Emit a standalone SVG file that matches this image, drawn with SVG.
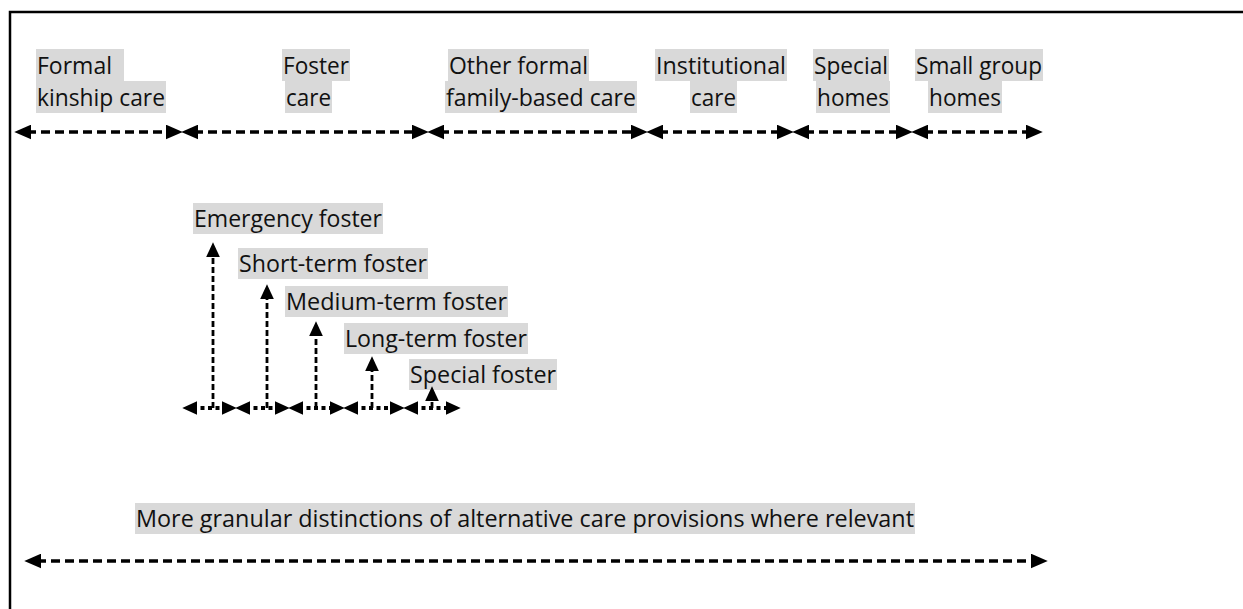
<svg xmlns="http://www.w3.org/2000/svg" width="1243" height="609" viewBox="0 0 1243 609">
<defs>
<style>
.hl{fill:#d9d9d9}
.t{font-family:"Open Sans","Noto Sans","Liberation Sans",sans-serif;font-size:24px;fill:#111}
.top{fill:none;stroke:#000;stroke-width:3.6;stroke-dasharray:9 5}
.dot{fill:none;stroke:#000;stroke-width:3.8;stroke-dasharray:4 3.5}
.vert{fill:none;stroke:#000;stroke-width:2.8;stroke-dasharray:6 3}
.big{fill:none;stroke:#000;stroke-width:3.6;stroke-dasharray:9 5}
</style>
<marker id="ah" markerUnits="userSpaceOnUse" markerWidth="17" markerHeight="15" refX="4" refY="7" orient="auto-start-reverse" viewBox="0 0 16 14">
<path d="M0,0 L16,7 L0,14 z" fill="#000"/>
</marker>
<marker id="as" markerUnits="userSpaceOnUse" markerWidth="15" markerHeight="14" refX="4" refY="6.5" orient="auto-start-reverse" viewBox="0 0 14 13">
<path d="M0,0 L14,6.5 L0,13 z" fill="#000"/>
</marker>
</defs>
<rect width="1243" height="609" fill="#fff"/>
<path d="M1250,12 H10 V620" fill="none" stroke="#000" stroke-width="2.5"/>

<g id="n-kinship">
<rect class="hl" x="36" y="49" width="88" height="32"/>
<rect class="hl" x="36" y="81" width="130" height="32"/>
<text class="t" x="37" y="74" textLength="75" lengthAdjust="spacingAndGlyphs">Formal</text>
<text class="t" x="37" y="106" textLength="128" lengthAdjust="spacingAndGlyphs">kinship care</text>
</g>
<g id="n-foster">
<rect class="hl" x="282" y="49" width="68" height="32"/>
<rect class="hl" x="285" y="81" width="47" height="32"/>
<text class="t" x="283" y="74" textLength="66" lengthAdjust="spacingAndGlyphs">Foster</text>
<text class="t" x="286" y="106" textLength="45" lengthAdjust="spacingAndGlyphs">care</text>
</g>
<g id="n-other">
<rect class="hl" x="448" y="49" width="141" height="32"/>
<rect class="hl" x="445" y="81" width="192" height="32"/>
<text class="t" x="449" y="74" textLength="139" lengthAdjust="spacingAndGlyphs">Other formal</text>
<text class="t" x="446" y="106" textLength="190" lengthAdjust="spacingAndGlyphs">family-based care</text>
</g>
<g id="n-institutional">
<rect class="hl" x="655" y="49" width="132" height="32"/>
<rect class="hl" x="690" y="81" width="47" height="32"/>
<text class="t" x="656" y="74" textLength="130" lengthAdjust="spacingAndGlyphs">Institutional</text>
<text class="t" x="691" y="106" textLength="45" lengthAdjust="spacingAndGlyphs">care</text>
</g>
<g id="n-special-homes">
<rect class="hl" x="813" y="49" width="76" height="32"/>
<rect class="hl" x="816" y="81" width="74" height="32"/>
<text class="t" x="814" y="74" textLength="74" lengthAdjust="spacingAndGlyphs">Special</text>
<text class="t" x="817" y="106" textLength="72" lengthAdjust="spacingAndGlyphs">homes</text>
</g>
<g id="n-small-group">
<rect class="hl" x="915" y="49" width="128" height="32"/>
<rect class="hl" x="928" y="81" width="74" height="32"/>
<text class="t" x="916" y="74" textLength="126" lengthAdjust="spacingAndGlyphs">Small group</text>
<text class="t" x="929" y="106" textLength="72" lengthAdjust="spacingAndGlyphs">homes</text>
</g>

<g id="n-emergency">
<rect class="hl" x="193" y="203" width="190" height="31"/>
<text class="t" x="194" y="227" textLength="188" lengthAdjust="spacingAndGlyphs">Emergency foster</text>
</g>
<g id="n-short">
<rect class="hl" x="238" y="248" width="190" height="31"/>
<text class="t" x="239" y="272" textLength="188" lengthAdjust="spacingAndGlyphs">Short-term foster</text>
</g>
<g id="n-medium">
<rect class="hl" x="285" y="286" width="223" height="31"/>
<text class="t" x="286" y="310" textLength="221" lengthAdjust="spacingAndGlyphs">Medium-term foster</text>
</g>
<g id="n-long">
<rect class="hl" x="344" y="323" width="184" height="31"/>
<text class="t" x="345" y="347" textLength="182" lengthAdjust="spacingAndGlyphs">Long-term foster</text>
</g>
<g id="n-special-foster">
<rect class="hl" x="409" y="359" width="148" height="31"/>
<text class="t" x="410" y="383" textLength="146" lengthAdjust="spacingAndGlyphs">Special foster</text>
</g>
<g id="n-granular">
<rect class="hl" x="135" y="503" width="780" height="31"/>
<text class="t" x="136" y="527" textLength="778" lengthAdjust="spacingAndGlyphs">More granular distinctions of alternative care provisions where relevant</text>
</g>

<g id="connectors">
<path class="top" d="M27,132 H170" marker-start="url(#ah)" marker-end="url(#ah)"/>
<path class="top" d="M194,132 H416" marker-start="url(#ah)" marker-end="url(#ah)"/>
<path class="top" d="M440,132 H635" marker-start="url(#ah)" marker-end="url(#ah)"/>
<path class="top" d="M659,132 H781" marker-start="url(#ah)" marker-end="url(#ah)"/>
<path class="top" d="M805,132 H900" marker-start="url(#ah)" marker-end="url(#ah)"/>
<path class="top" d="M924,132 H1030" marker-start="url(#ah)" marker-end="url(#ah)"/>

<path class="vert" d="M213,408 V253" marker-end="url(#as)"/>
<path class="vert" d="M267,408 V295" marker-end="url(#as)"/>
<path class="vert" d="M316,408 V332" marker-end="url(#as)"/>
<path class="vert" d="M372,408 V367" marker-end="url(#as)"/>
<path class="vert" d="M432,408 V397" marker-end="url(#as)"/>

<path class="dot" d="M193,408 H226" marker-start="url(#as)" marker-end="url(#as)"/>
<path class="dot" d="M246,408 H279" marker-start="url(#as)" marker-end="url(#as)"/>
<path class="dot" d="M299,408 H334" marker-start="url(#as)" marker-end="url(#as)"/>
<path class="dot" d="M354,408 H394" marker-start="url(#as)" marker-end="url(#as)"/>
<path class="dot" d="M414,408 H450" marker-start="url(#as)" marker-end="url(#as)"/>

<path class="big" d="M37,561 H1035" marker-start="url(#ah)" marker-end="url(#ah)"/>
</g>
</svg>
